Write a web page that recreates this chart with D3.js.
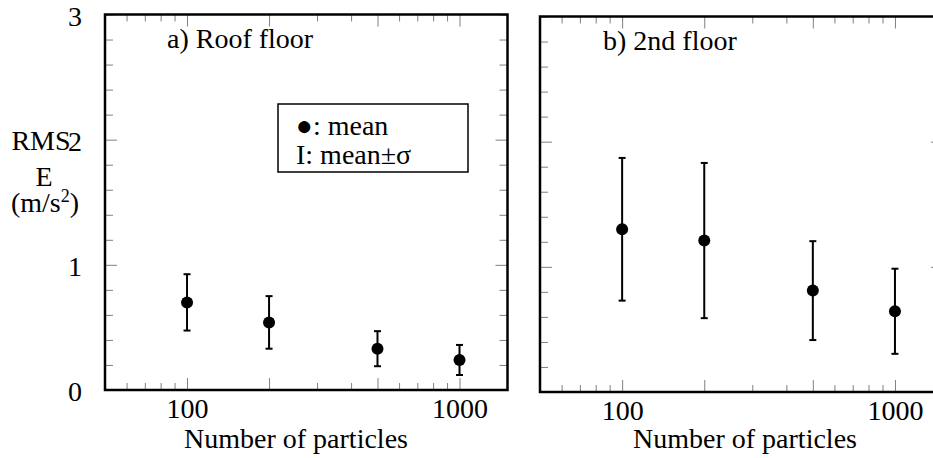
<!DOCTYPE html>
<html>
<head>
<meta charset="utf-8">
<style>
  body { margin: 0; background: white; }
  svg { display: block; }
  .tick line { stroke: #808080; stroke-width: 1px; }
  .frame { fill: none; stroke: black; stroke-width: 2.5px; }
</style>
<script src="https://d3js.org/d3.v7.min.js"></script>
</head>
<body>
<script>

    // number of particles and RMSE statistics (mean and standard deviation)
    var particles = [100, 200, 500, 1000];
    var roofMean = [0.70, 0.54, 0.33, 0.24];
    var roofSd = [0.225, 0.21, 0.14, 0.12];
    var floor2Mean = [1.30, 1.21, 0.81, 0.645];
    var floor2Sd = [0.57, 0.62, 0.395, 0.34];

    var xTicks = [60, 70, 80, 90, 100, 200, 300, 400, 500, 600, 700, 800, 900, 1000];
    var xLabels = [100, 1000];
    var yTicks = d3.range(0, 3.01, 0.2).map(function(v) { return +v.toFixed(1); });
    var yLabels = [0, 1, 2, 3];

    var width = 933, height = 458;
    var serif = "'Liberation Serif', 'Times New Roman', serif";

    var svg = d3.select("body").append("svg")
        .attr("width", width)
        .attr("height", height);

    svg.append("rect").attr("width", width).attr("height", height).attr("fill", "white");

    var panels = [
      {left: 105, right: 507.5, top: 14.5, bottom: 390, title: "a) Roof floor", titleX: 167, titleY: 48,
       mean: roofMean, sd: roofSd, labels: true, xTitle: 296},
      {left: 540, right: 943, top: 16.5, bottom: 392, title: "b) 2nd floor", titleX: 603, titleY: 50,
       mean: floor2Mean, sd: floor2Sd, labels: false, xTitle: 745}
    ];

    var isMajorX = function(v) { return particles.indexOf(v) >= 0; };
    var isMajorY = function(v) { return v == 1 || v == 2; };

    panels.forEach(function(p) {
      var x = d3.scaleLog().domain([50, 1500]).range([p.left, p.right]);
      var y = d3.scaleLinear().domain([0, 3]).range([p.bottom, p.top]);

      var g = svg.append("g");

      // bottom axis (ticks inward)
      var bottom = g.append("g")
          .attr("transform", "translate(0," + p.bottom + ")")
          .call(d3.axisBottom(x).tickValues(xTicks).tickSizeInner(-7).tickSizeOuter(0).tickPadding(8)
            .tickFormat(function(d) { return xLabels.indexOf(d) >= 0 ? d : ""; }));
      bottom.selectAll(".tick line").attr("y2", function(d) { return isMajorX(d) ? -12 : -7; });

      var top = g.append("g")
          .attr("transform", "translate(0," + p.top + ")")
          .call(d3.axisTop(x).tickValues(xTicks).tickSizeInner(-7).tickSizeOuter(0).tickFormat(""));
      top.selectAll(".tick line").attr("y2", function(d) { return isMajorX(d) ? 12 : 7; });

      var left = g.append("g")
          .attr("transform", "translate(" + p.left + ",0)")
          .call(d3.axisLeft(y).tickValues(yTicks).tickSizeInner(-8).tickSizeOuter(0).tickPadding(23)
            .tickFormat(function(d) { return (p.labels && yLabels.indexOf(d) >= 0) ? d : ""; }));
      left.selectAll(".tick line").attr("x2", function(d) { return isMajorY(d) ? 12 : 8; });
      left.selectAll(".tick text").attr("dy", "0.38em");

      var right = g.append("g")
          .attr("transform", "translate(" + p.right + ",0)")
          .call(d3.axisRight(y).tickValues(yTicks).tickSizeInner(-8).tickSizeOuter(0).tickFormat(""));
      right.selectAll(".tick line").attr("x2", function(d) { return isMajorY(d) ? -12 : -8; });

      g.selectAll(".domain").remove();

      g.append("rect").attr("class", "frame")
        .attr("x", p.left).attr("y", p.top)
        .attr("width", p.right - p.left).attr("height", p.bottom - p.top);

      // error bars
      var bars = g.selectAll(".err").data(particles).enter().append("g").attr("class", "err");
      bars.append("line")
        .attr("x1", function(d) { return x(d); }).attr("x2", function(d) { return x(d); })
        .attr("y1", function(d, i) { return y(p.mean[i] - p.sd[i]); })
        .attr("y2", function(d, i) { return y(p.mean[i] + p.sd[i]); })
        .attr("stroke", "black").attr("stroke-width", 2);
      [-1, 1].forEach(function(s) {
        bars.append("line")
          .attr("x1", function(d) { return x(d) - 3.5; }).attr("x2", function(d) { return x(d) + 3.5; })
          .attr("y1", function(d, i) { return y(p.mean[i] + s * p.sd[i]); })
          .attr("y2", function(d, i) { return y(p.mean[i] + s * p.sd[i]); })
          .attr("stroke", "black").attr("stroke-width", 2);
      });
      bars.append("circle")
        .attr("cx", function(d) { return x(d); })
        .attr("cy", function(d, i) { return y(p.mean[i]); })
        .attr("r", 6).attr("fill", "black");

      g.append("text").attr("x", p.titleX).attr("y", p.titleY).text(p.title);
      g.append("text").attr("x", p.xTitle).attr("y", 448).attr("text-anchor", "middle").text("Number of particles");
    });

    // y axis title
    var yt = svg.append("text").attr("text-anchor", "middle");
    yt.append("tspan").attr("x", 41).attr("y", 150).text("RMS");
    yt.append("tspan").attr("x", 44).attr("y", 186).text("E");
    var unit = yt.append("tspan").attr("x", 45).attr("y", 212).text("(m/s");
    unit.append("tspan").attr("dy", -10).style("font-size", "18px").text("2");
    yt.append("tspan").attr("dy", 10).text(")");

    // legend
    svg.append("rect").attr("x", 278).attr("y", 104).attr("width", 190).attr("height", 68)
      .attr("fill", "white").attr("stroke", "black").attr("stroke-width", 1.5);
    svg.append("text").attr("x", 296).attr("y", 135).text("\u25CF: mean");
    svg.append("text").attr("x", 296).attr("y", 164).text("I: mean\u00B1\u03C3");

    // one serif face for every label
    svg.selectAll("text")
      .attr("font-family", null)
      .attr("font-size", null)
      .style("font-family", serif)
      .style("font-size", "28px")
      .attr("fill", "black");
    svg.selectAll("tspan").filter(function() { return this.textContent === "2" && !this.getAttribute("x"); })
      .style("font-size", "18px");
    svg.selectAll(".tick text").style("font-family", serif);

</script>
</body>
</html>
